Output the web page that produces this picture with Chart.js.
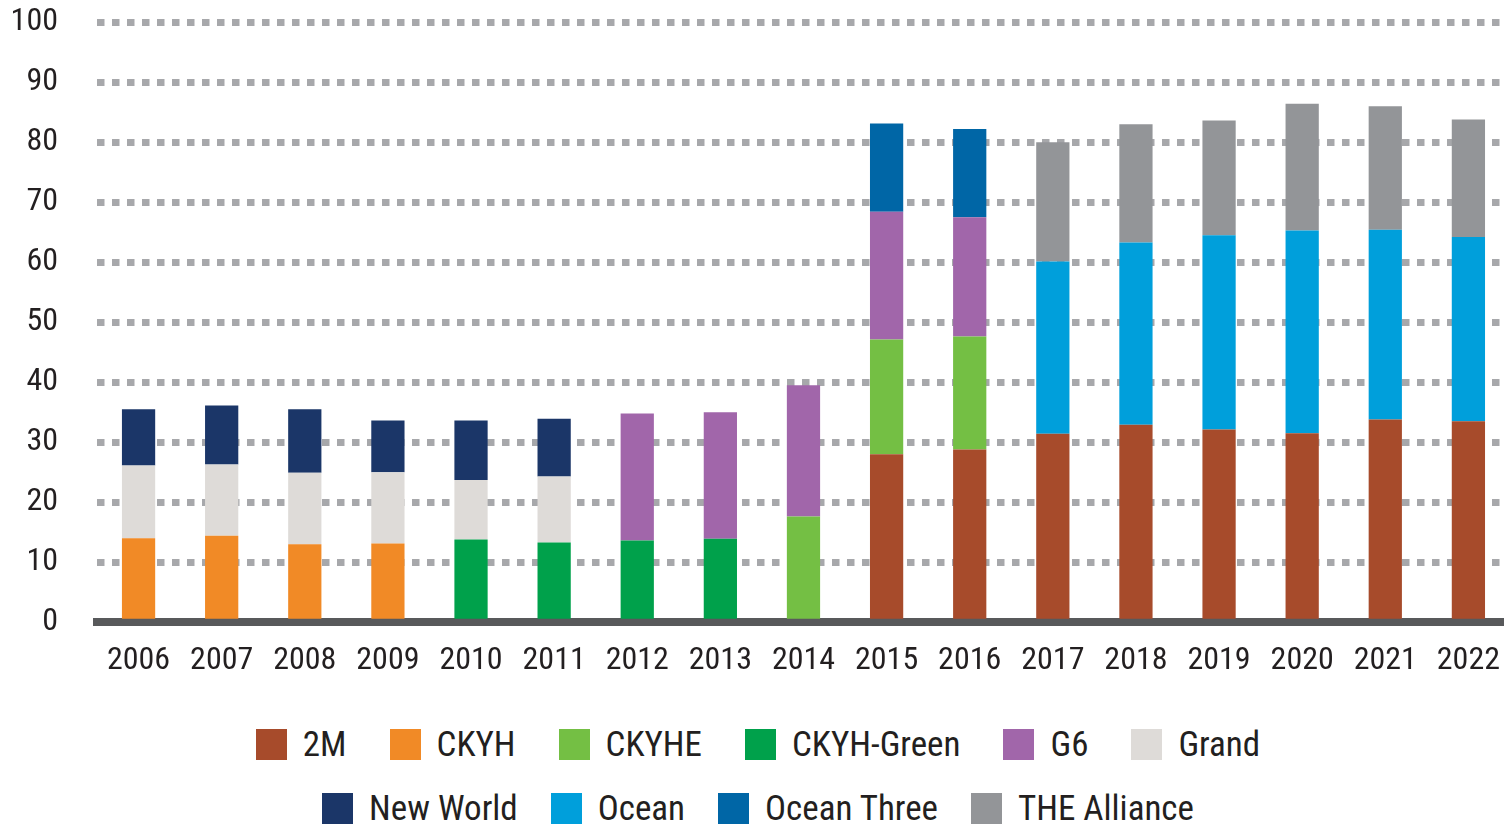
<!DOCTYPE html>
<html>
<head>
<meta charset="utf-8">
<script src="https://cdn.jsdelivr.net/npm/chart.js@4"></script>
<style>
  html, body { margin: 0; padding: 0; background: #fff; overflow: hidden; }
  #wrap { position: absolute; left: 0; top: 0; width: 1520px; height: 700px; }
  #legend { position: absolute; left: 6px; top: 712px; width: 1504px; font-family: 'Liberation Sans Narrow', 'Roboto Condensed', Roboto, sans-serif; font-size: 35px; color: #231f20; }
  .row { display: flex; justify-content: center; height: 64px; align-items: center; }
  .item { display: flex; align-items: center; margin: 0 21.5px; }
  .row2 .item { margin: 0 16.5px; }
  .box { width: 31px; height: 31px; margin-right: 16px; }
</style>
</head>
<body>
<div id="wrap"><canvas id="chart"></canvas></div>
<div id="legend"></div>
<script>
const years = ['2006','2007','2008','2009','2010','2011','2012','2013','2014','2015','2016','2017','2018','2019','2020','2021','2022'];
const yTicks = [0, 10, 20, 30, 40, 50, 60, 70, 80, 90, 100];

const twoM        = [null,null,null,null,null,null,null,null,null,28.0,28.8,31.4,32.9,32.1,31.5,33.8,33.5];
const ckyh        = [14.0,14.4,13.0,13.1,null,null,null,null,null,null,null,null,null,null,null,null,null];
const ckyhe       = [null,null,null,null,null,null,null,null,17.6,19.1,18.8,null,null,null,null,null,null];
const ckyhGreen   = [null,null,null,null,13.8,13.3,13.6,13.9,null,null,null,null,null,null,null,null,null];
const g6          = [null,null,null,null,null,null,21.2,21.1,21.9,21.3,19.9,null,null,null,null,null,null];
const grand       = [12.1,11.9,11.9,11.9,9.9,11.0,null,null,null,null,null,null,null,null,null,null,null];
const newWorld    = [9.4,9.8,10.6,8.6,9.9,9.6,null,null,null,null,null,null,null,null,null,null,null];
const ocean       = [null,null,null,null,null,null,null,null,null,null,null,28.7,30.4,32.4,33.8,31.6,30.7];
const oceanThree  = [null,null,null,null,null,null,null,null,null,14.7,14.7,null,null,null,null,null,null];
const theAlliance = [null,null,null,null,null,null,null,null,null,null,null,19.9,19.7,19.1,21.1,20.6,19.6];

const series = [
  { label: '2M', data: twoM, color: '#a74b2b' },
  { label: 'CKYH', data: ckyh, color: '#f18a26' },
  { label: 'CKYHE', data: ckyhe, color: '#74bf44' },
  { label: 'CKYH-Green', data: ckyhGreen, color: '#00a14b' },
  { label: 'G6', data: g6, color: '#a166aa' },
  { label: 'Grand', data: grand, color: '#dedbd8' },
  { label: 'New World', data: newWorld, color: '#1b3668' },
  { label: 'Ocean', data: ocean, color: '#009fdb' },
  { label: 'Ocean Three', data: oceanThree, color: '#0066a6' },
  { label: 'THE Alliance', data: theAlliance, color: '#939598' }
];

const tickFont = { family: "'Liberation Sans Narrow', 'Roboto Condensed', Roboto, sans-serif", size: 32 };

const chart = new Chart(document.getElementById('chart'), {
  type: 'bar',
  data: {
    labels: years,
    datasets: series.map(s => ({
      label: s.label,
      data: s.data,
      backgroundColor: s.color,
      borderWidth: 0,
      barPercentage: 0.4,
      categoryPercentage: 1
    }))
  },
  options: {
    responsive: true,
    maintainAspectRatio: false,
    animation: false,
    layout: { padding: 0 },
    plugins: {
      legend: { display: false },
      tooltip: { enabled: false }
    },
    scales: {
      x: {
        stacked: true,
        z: 1,
        grid: { display: false, drawTicks: false },
        border: { display: true, color: '#58595b', width: 8 },
        ticks: { color: '#231f20', font: tickFont, padding: 20, maxRotation: 0, autoSkip: false },
        afterFit(scale) { scale.height = 78; }
      },
      y: {
        stacked: true,
        min: 0,
        max: 100,
        afterBuildTicks(scale) { scale.ticks = yTicks.map(v => ({ value: v })); },
        grid: { color: '#a7a8ab', lineWidth: 7, drawTicks: false },
        border: { display: false, dash: [7.5, 7.5] },
        ticks: { color: '#231f20', font: tickFont, padding: 39 },
        afterFit(scale) { scale.width = 97; }
      }
    }
  }
});

// line the plot area up: top gridline at y=22, axis at y=622
const wrap = document.getElementById('wrap');
const delta = 22 - chart.chartArea.top;
wrap.style.top = delta + 'px';
wrap.style.height = (700 - delta) + 'px';
chart.resize();

const legend = document.getElementById('legend');
[series.slice(0, 6), series.slice(6)].forEach((group, i) => {
  const row = document.createElement('div');
  row.className = 'row row' + (i + 1);
  group.forEach(s => {
    const item = document.createElement('div');
    item.className = 'item';
    const box = document.createElement('span');
    box.className = 'box';
    box.style.background = s.color;
    const txt = document.createElement('span');
    txt.textContent = s.label;
    item.appendChild(box);
    item.appendChild(txt);
    row.appendChild(item);
  });
  legend.appendChild(row);
});
</script>
</body>
</html>
